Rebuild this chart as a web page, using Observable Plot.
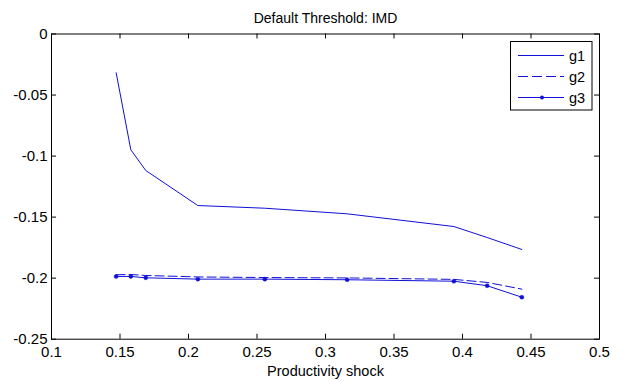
<!DOCTYPE html>
<html>
<head>
<meta charset="utf-8">
<script src="https://cdn.jsdelivr.net/npm/d3@7"></script>
<script src="https://cdn.jsdelivr.net/npm/@observablehq/plot@0.6"></script>
<style>
  html, body { margin: 0; padding: 0; background: #fff; }
  #wrap { position: relative; width: 624px; height: 383px; font-family: "Liberation Sans", Arial, sans-serif; }
  #legend { position: absolute; left: 0; top: 0; }
</style>
</head>
<body>
<div id="wrap"></div>
<script>
const title = "Default Threshold: IMD";
const xLabel = "Productivity shock";
const shock = [0.1472, 0.1579, 0.1688, 0.2068, 0.2557, 0.3158, 0.3937, 0.418, 0.4433];
const g1 = [-0.0318, -0.0948, -0.1118, -0.1405, -0.1427, -0.1473, -0.1577, -0.1667, -0.1765];
const g2 = [-0.1972, -0.1970, -0.1978, -0.1990, -0.1995, -0.1998, -0.2010, -0.2035, -0.2090];
const g3 = [-0.1986, -0.1986, -0.1997, -0.2008, -0.2008, -0.2013, -0.2025, -0.2062, -0.2156];
const xTicks = [0.1, 0.15, 0.2, 0.25, 0.3, 0.35, 0.4, 0.45, 0.5];
const yTicks = [0, -0.05, -0.1, -0.15, -0.2, -0.25];
const seriesNames = ["g1", "g2", "g3"];

const blue = "#1010d8";
const rows = (ys) => shock.map((x, i) => ({x, y: ys[i]}));
const rows1 = rows(g1), rows2 = rows(g2), rows3 = rows(g3);

const W = 624, H = 383, mL = 51, mR = 25, mT = 33.5, mB = 44.3;
const fw = W - mL - mR, fh = H - mT - mB;

const chart = Plot.plot({
  width: W, height: H,
  marginLeft: mL, marginRight: mR, marginTop: mT, marginBottom: mB,
  style: {fontFamily: "Liberation Sans, Arial, sans-serif", background: "#fff", color: "#000"},
  x: {domain: [0.1, 0.5]},
  y: {domain: [-0.25, 0]},
  marks: [
    Plot.axisX(xTicks, {anchor: "bottom", tickSize: 0, tickPadding: 7, tickFormat: d => String(d), fontSize: 15, label: null}),
    Plot.axisY(yTicks, {anchor: "left", tickSize: 0, tickPadding: 4, tickFormat: d => String(d), fontSize: 15, label: null}),
    Plot.tickX(xTicks, {x: d => d, insetTop: fh - 5, stroke: "#000"}),
    Plot.tickX(xTicks, {x: d => d, insetBottom: fh - 5, stroke: "#000"}),
    Plot.tickY(yTicks, {y: d => d, insetRight: fw - 5, stroke: "#000"}),
    Plot.tickY(yTicks, {y: d => d, insetLeft: fw - 5, stroke: "#000"}),
    Plot.frame({stroke: "#000"}),
    Plot.line(rows1, {x: "x", y: "y", stroke: blue, strokeWidth: 1}),
    Plot.line(rows2, {x: "x", y: "y", stroke: blue, strokeWidth: 1, strokeDasharray: "9,4"}),
    Plot.line(rows3, {x: "x", y: "y", stroke: blue, strokeWidth: 1}),
    Plot.dot(rows3, {x: "x", y: "y", r: 2, fill: blue, stroke: blue, strokeWidth: 0.5}),
    Plot.text([title], {frameAnchor: "top", text: d => d, dy: -11, lineAnchor: "bottom", fontSize: 14, fill: "#000"}),
    Plot.text([xLabel], {frameAnchor: "bottom", text: d => d, dy: 36.5, lineAnchor: "bottom", fontSize: 14.5, fill: "#000"})
  ]
});
document.getElementById("wrap").appendChild(chart);

// Legend overlay (MATLAB style box)
const leg = d3.select("#wrap").append("svg").attr("id", "legend").attr("width", W).attr("height", H);
leg.append("rect").attr("x", 510.5).attr("y", 41.5).attr("width", 81.5).attr("height", 68.5)
  .attr("fill", "#fff").attr("stroke", "#000").attr("stroke-width", 1);
const rowY = [55.5, 76.5, 97.5];
seriesNames.forEach((name, i) => {
  const y = rowY[i];
  const ln = leg.append("line").attr("x1", 518).attr("x2", 564).attr("y1", y).attr("y2", y)
    .attr("stroke", blue).attr("stroke-width", 1);
  if (i === 1) ln.attr("stroke-dasharray", "10,4");
  if (i === 2) leg.append("circle").attr("cx", 542).attr("cy", y).attr("r", 2).attr("fill", blue);
  leg.append("text").attr("x", 569).attr("y", y + 5).attr("font-size", 14.5)
    .attr("font-family", "Liberation Sans, Arial, sans-serif").attr("fill", "#000").text(name);
});
</script>
</body>
</html>
